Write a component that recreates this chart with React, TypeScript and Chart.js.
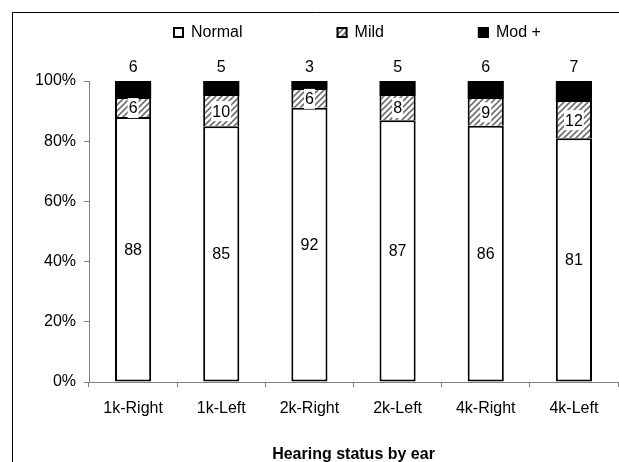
import React, { useEffect, useRef } from 'react';
import { Chart, registerables } from 'chart.js';

Chart.register(...registerables);

const categories = ['1k-Right', '1k-Left', '2k-Right', '2k-Left', '4k-Right', '4k-Left'];
const normalCounts = [88, 85, 92, 87, 86, 81];
const mildCounts = [6, 10, 6, 8, 9, 12];
const modCounts = [6, 5, 3, 5, 6, 7];
const yTickValues = [0, 20, 40, 60, 80, 100];
const seriesNames = ['Normal', 'Mild', 'Mod +'];
const xTitle = 'Hearing status by ear';

const FONT = '"Liberation Sans", Arial, sans-serif';

function toPercent(values: number[]): number[] {
  return values.map((v, i) => (v / (normalCounts[i] + mildCounts[i] + modCounts[i])) * 100);
}

function makeHatch(ctx: CanvasRenderingContext2D): CanvasPattern | string {
  const tile = document.createElement('canvas');
  tile.width = 6;
  tile.height = 6;
  const g = tile.getContext('2d');
  if (!g) return '#ccc';
  g.fillStyle = '#ffffff';
  g.fillRect(0, 0, 6, 6);
  g.strokeStyle = '#6e6e6e';
  g.lineWidth = 1.6;
  g.beginPath();
  g.moveTo(-1, 7);
  g.lineTo(7, -1);
  g.moveTo(-4, 4);
  g.lineTo(4, -4);
  g.moveTo(2, 10);
  g.lineTo(10, 2);
  g.stroke();
  return ctx.createPattern(tile, 'repeat') || '#ccc';
}

export default function App() {
  const ref = useRef<HTMLCanvasElement | null>(null);

  useEffect(() => {
    const canvas = ref.current;
    if (!canvas) return;
    const ctx0 = canvas.getContext('2d')!;
    const hatch = makeHatch(ctx0);

    const framePlugin = {
      id: 'frame',
      beforeDraw(chart: any) {
        const { ctx, width, height } = chart;
        ctx.save();
        ctx.fillStyle = '#ffffff';
        ctx.fillRect(0, 0, width, height);
        ctx.restore();
      },
      afterDraw(chart: any) {
        const { ctx, width, height } = chart;
        ctx.save();
        ctx.strokeStyle = '#000000';
        ctx.lineWidth = 1;
        ctx.beginPath();
        ctx.moveTo(12.5, height);
        ctx.lineTo(12.5, 12.5);
        ctx.lineTo(width, 12.5);
        ctx.stroke();

        // legend
        const area = chart.chartArea;
        ctx.font = '16px ' + FONT;
        ctx.textBaseline = 'middle';
        ctx.textAlign = 'left';
        let x = area.left + 84;
        const cy = 32;
        chart.data.datasets.forEach((ds: any) => {
          ctx.fillStyle = ds.backgroundColor;
          ctx.fillRect(x, cy - 5, 11, 11);
          ctx.strokeStyle = '#000';
          ctx.lineWidth = 2;
          ctx.strokeRect(x + 1, cy - 4, 9, 9);
          ctx.fillStyle = '#000';
          ctx.fillText(ds.label, x + 18, cy + 1);
          x += 18 + ctx.measureText(ds.label).width + 94;
        });
        ctx.restore();
      },
    };

    const labelPlugin = {
      id: 'segLabels',
      afterDatasetsDraw(chart: any) {
        const { ctx } = chart;
        ctx.save();
        ctx.font = '16px ' + FONT;
        ctx.textAlign = 'center';
        ctx.textBaseline = 'middle';
        const m0 = chart.getDatasetMeta(0);
        const m1 = chart.getDatasetMeta(1);
        const m2 = chart.getDatasetMeta(2);
        m0.data.forEach((bar: any, i: number) => {
          const p = bar.getProps(['x', 'y', 'base'], true);
          ctx.fillStyle = '#000';
          ctx.fillText(String(normalCounts[i]), p.x, (p.y + p.base) / 2 + 1);
        });
        m1.data.forEach((bar: any, i: number) => {
          const p = bar.getProps(['x', 'y', 'base'], true);
          const t = String(mildCounts[i]);
          const w = ctx.measureText(t).width + 2;
          const cy = (p.y + p.base) / 2;
          ctx.fillStyle = '#fff';
          ctx.fillRect(p.x - w / 2, cy - 10, w, 20);
          ctx.fillStyle = '#000';
          ctx.fillText(t, p.x, cy + 1);
        });
        m2.data.forEach((bar: any, i: number) => {
          const p = bar.getProps(['x', 'y', 'base'], true);
          ctx.fillStyle = '#000';
          ctx.fillText(String(modCounts[i]), p.x, p.y - 13);
        });
        ctx.restore();
      },
    };

    const chart = new Chart(canvas, {
      type: 'bar',
      data: {
        labels: categories,
        datasets: [
          {
            label: seriesNames[0],
            data: toPercent(normalCounts),
            backgroundColor: '#ffffff',
            borderColor: '#000000',
            borderWidth: { top: 2, bottom: 2, left: 2, right: 2 },
            borderSkipped: false,
          },
          {
            label: seriesNames[1],
            data: toPercent(mildCounts),
            backgroundColor: hatch as any,
            borderColor: '#000000',
            borderWidth: { top: 0, bottom: 0, left: 2, right: 2 },
            borderSkipped: false,
          },
          {
            label: seriesNames[2],
            data: toPercent(modCounts),
            backgroundColor: '#000000',
            borderColor: '#000000',
            borderWidth: 0,
            borderSkipped: false,
          },
        ],
      },
      options: {
        animation: false,
        responsive: true,
        maintainAspectRatio: false,
        devicePixelRatio: 1,
        layout: { padding: { top: 81, right: 1, left: 0, bottom: 0 } },
        datasets: {
          bar: { categoryPercentage: 1, barPercentage: 0.41 },
        },
        plugins: {
          legend: { display: false },
          tooltip: { enabled: false },
        },
        scales: {
          x: {
            stacked: true,
            offset: true,
            grid: {
              offset: true,
              drawOnChartArea: false,
              drawTicks: true,
              tickLength: 5,
              color: '#808080',
            },
            border: { color: '#808080', width: 1 },
            ticks: {
              color: '#000',
              font: { family: FONT, size: 16 },
              padding: 12,
              maxRotation: 0,
            },
            title: {
              display: true,
              text: xTitle,
              color: '#000',
              font: { family: FONT, size: 16, weight: 'bold' },
              padding: { top: 0, bottom: -2 },
            },
            afterFit(scale: any) {
              scale.height = 80;
            },
          },
          y: {
            stacked: true,
            min: 0,
            max: 100,
            afterBuildTicks(scale: any) {
              scale.ticks = yTickValues.map((v) => ({ value: v }));
            },
            grid: {
              drawOnChartArea: false,
              drawTicks: true,
              tickLength: 5,
              color: '#808080',
            },
            border: { color: '#808080', width: 1 },
            ticks: {
              color: '#000',
              font: { family: FONT, size: 16 },
              padding: 8,
              callback: (v: any) => v + '%',
            },
            afterFit(scale: any) {
              scale.width = 89;
            },
          },
        },
      },
      plugins: [framePlugin, labelPlugin],
    });

    return () => chart.destroy();
  }, []);

  return (
    <div style={{ position: 'fixed', left: 0, top: 0, width: 619, height: 462, background: '#fff' }}>
      <canvas ref={ref} />
    </div>
  );
}
